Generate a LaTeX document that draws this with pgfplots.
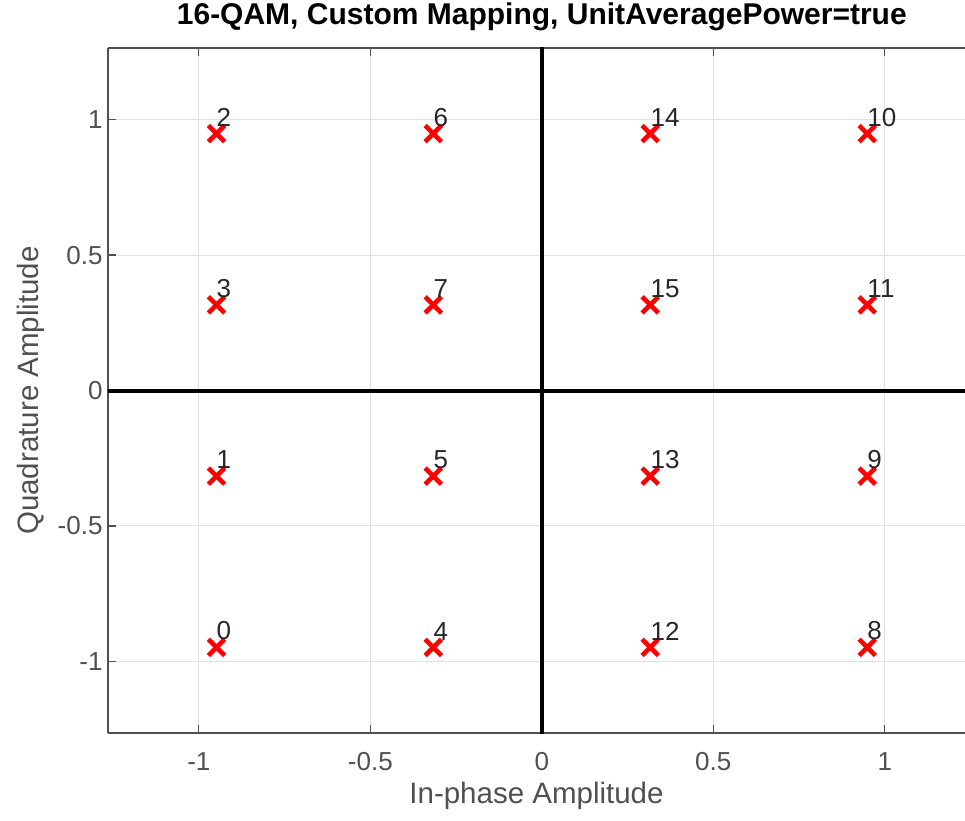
\documentclass[border=0pt]{standalone}
\usepackage{fontspec}
\setmainfont{Liberation Sans}
\usepackage{pgfplots}
\pgfplotsset{compat=1.18}
\definecolor{axgray}{RGB}{80,80,80}
\definecolor{gridgray}{RGB}{225,225,225}
\definecolor{mred}{RGB}{255,0,0}

\begin{document}
\begin{tikzpicture}
\begin{axis}[
    name=ax,
    scale only axis,
    width=857pt, height=685pt,
    xmin=-1.2649, xmax=1.234,
    ymin=-1.2649, ymax=1.2649,
    axis x line*=box, axis y line*=left,
    axis line style={draw=axgray, line width=1.3pt},
    xtick={-1,-0.5,0,0.5,1},
    ytick={-1,-0.5,0,0.5,1},
    xticklabels={{-1},{-0.5},{0},{0.5},{1}},
    yticklabels={{-1},{-0.5},{0},{0.5},{1}},
    tick align=inside,
    major tick length=8pt,
    tick style={draw=axgray, line width=1.3pt},
    tick label style={font=\fontsize{26}{26}\selectfont, text=axgray},
    xticklabel style={yshift=-16pt},
    yticklabel style={xshift=-2pt},
    grid=major,
    major grid style={draw=gridgray, line width=1.2pt},
    xlabel={In-phase Amplitude},
    ylabel={Quadrature Amplitude},
    label style={font=\fontsize{29.5}{29.5}\selectfont, text=axgray},
    xlabel style={yshift=-4pt},
    ylabel style={yshift=6pt},
    title={16-QAM, Custom Mapping, UnitAveragePower=true},
    title style={font=\bfseries\fontsize{30}{30}\selectfont, at={(0.5062,1)}, anchor=south, yshift=8pt},
]
% axes through the origin
\addplot[black, line width=4pt, forget plot] coordinates {(-1.3,0) (1.3,0)};
\addplot[black, line width=4pt, forget plot] coordinates {(0,-1.3) (0,1.3)};

% constellation points with their symbol numbers
\addplot[only marks, mark=x, mark size=11.5pt, mred,
    mark options={line width=4.6pt},
    point meta=explicit symbolic,
    nodes near coords,
    every node near coord/.style={anchor=south west, inner sep=0pt, yshift=5pt, xshift=-2pt,
        font=\fontsize{26}{26}\selectfont, text={rgb,255:red,38;green,38;blue,38}},
] table[meta=lab] {
x y lab
-0.9487 0.9487 2
-0.3162 0.9487 6
0.3162 0.9487 14
0.9487 0.9487 10
-0.9487 0.3162 3
-0.3162 0.3162 7
0.3162 0.3162 15
0.9487 0.3162 11
-0.9487 -0.3162 1
-0.3162 -0.3162 5
0.3162 -0.3162 13
0.9487 -0.3162 9
-0.9487 -0.9487 0
-0.3162 -0.9487 4
0.3162 -0.9487 12
0.9487 -0.9487 8
};
\end{axis}
\pgfresetboundingbox
\path (ax.south west) ++(-108pt,-87pt) rectangle ++(965pt,820pt);
\end{tikzpicture}
\end{document}
